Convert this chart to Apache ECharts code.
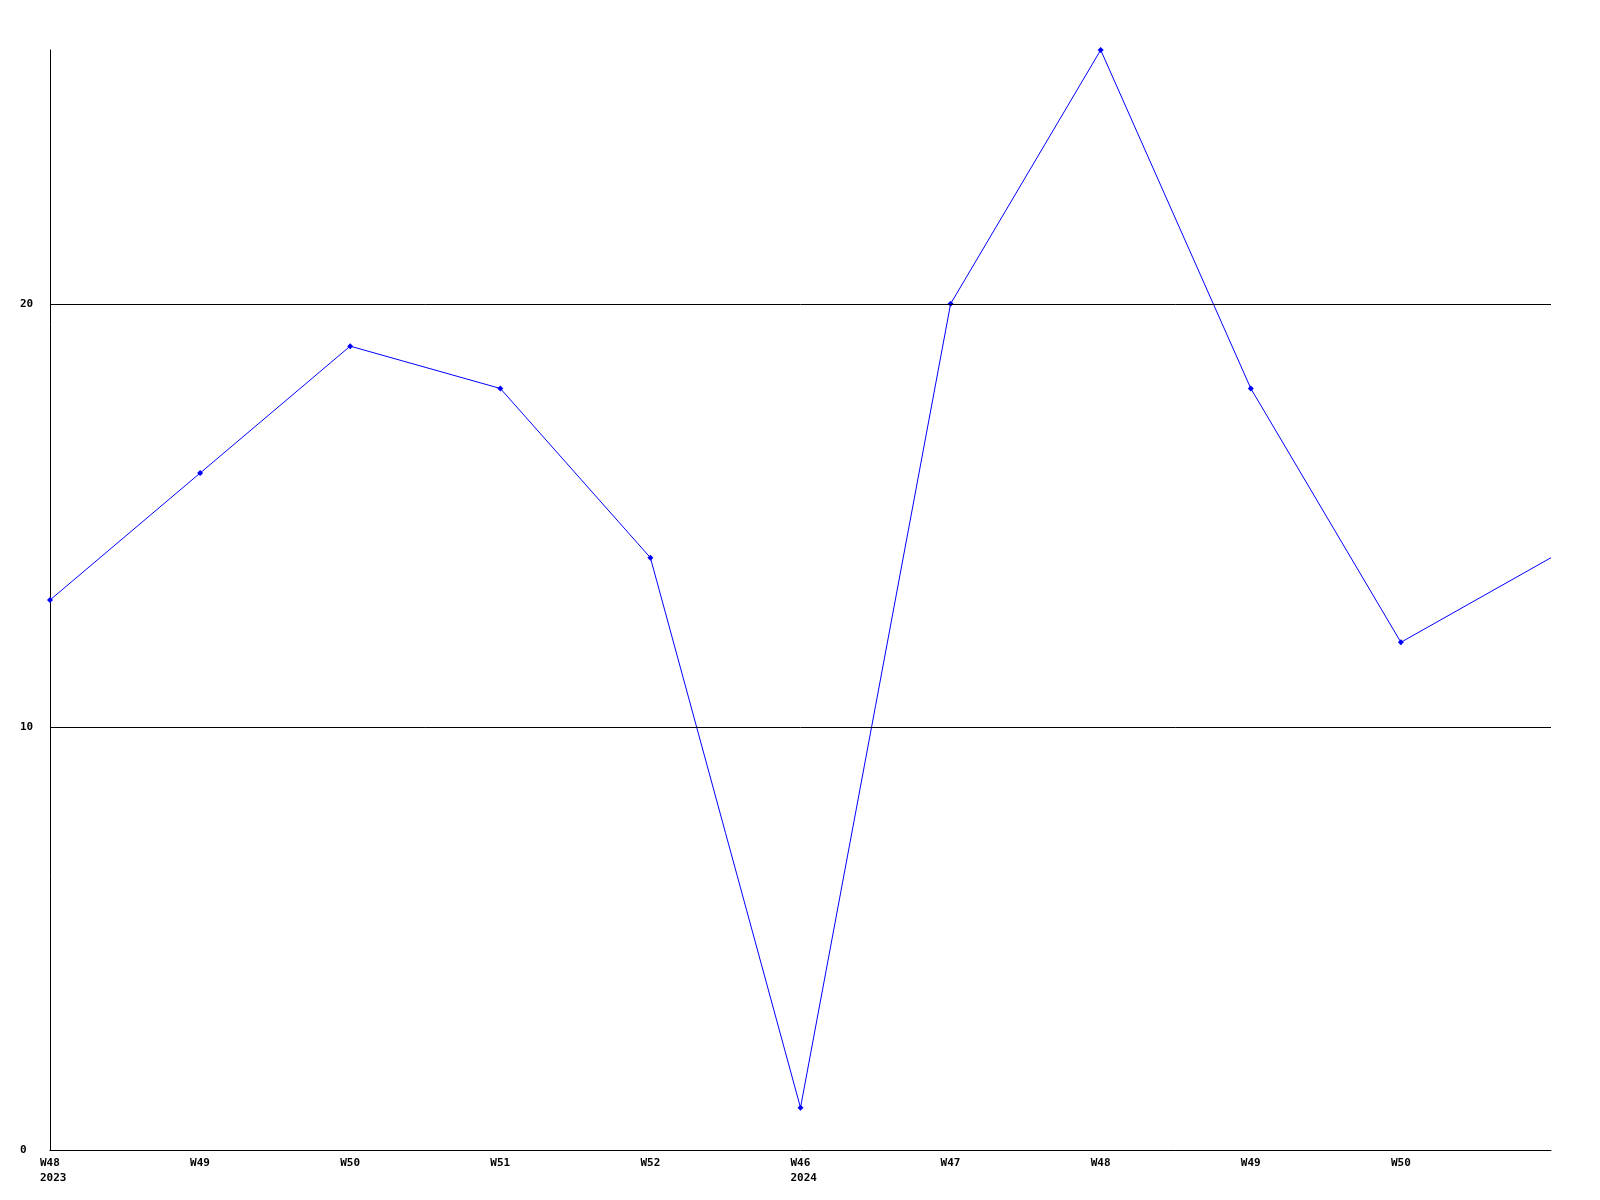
<!DOCTYPE html>
<html><head><meta charset="utf-8">
<script src="https://cdn.jsdelivr.net/npm/echarts@6/dist/echarts.min.js"></script>
<style>html,body{margin:0;padding:0;background:#fff}#c{width:1600px;height:1200px}</style>
</head><body><div id="c"></div>
<script>
const weeks = ['W48','W49','W50','W51','W52','W46','W47','W48','W49','W50',''];
const years = ['2023','','','','','2024','','','','',''];
const values = [13,16,19,18,14,1,20,26,18,12,14];
const yTicks = [10,20];

const cats = weeks.map((w,i)=>i+'|'+w);
const chart = echarts.init(document.getElementById('c'));
const font = {fontFamily:'DejaVu Sans Mono', fontWeight:'bold', fontSize:11, color:'#000'};
chart.setOption({
  animation:false,
  grid:{left:50,right:49,top:50,bottom:50},
  xAxis:{type:'category',data:cats,boundaryGap:false,
    axisLine:{lineStyle:{color:'#000',width:1}},axisTick:{show:false},
    axisLabel:{interval:0,margin:6,
      formatter:(v,i)=>{const w=weeks[i],y=years[i];return y?'{a|'+w+'}\n{a|'+y+'}':'{a|'+w+'}';},
      rich:{a:Object.assign({width:20,align:'left',lineHeight:15},font)}},
    splitLine:{show:false}},
  yAxis:{type:'value',min:0,max:26,interval:10,
    axisLine:{show:true,lineStyle:{color:'#000',width:1}},axisTick:{show:false},
    splitLine:{show:false},
    axisLabel:Object.assign({align:'left',margin:30,showMaxLabel:false,
      formatter:v=>v===26?'':String(v)},font)},
  series:[{type:'line',data:values,
    lineStyle:{color:'#0000ff',width:1},itemStyle:{color:'#0000ff'},
    symbol:'diamond',
    symbolSize:(v,p)=>p.dataIndex===values.length-1?0:6,
    markLine:{silent:true,symbol:'none',label:{show:false},
      lineStyle:{color:'#000',width:1,type:'solid'},
      data:yTicks.map(t=>({yAxis:t}))},
    z:3}]
});
</script></body></html>
